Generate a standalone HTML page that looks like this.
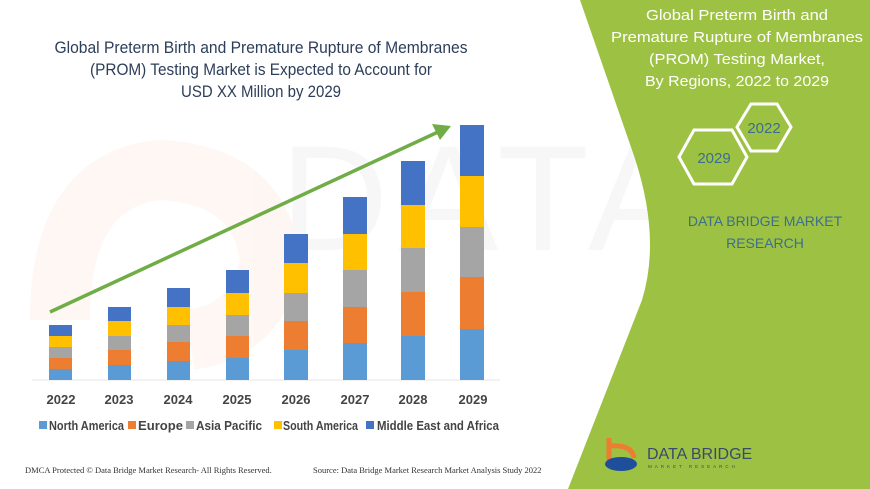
<!DOCTYPE html>
<html><head><meta charset="utf-8"><style>
html,body{margin:0;padding:0;background:#fff}
svg{display:block}
</style></head><body>
<svg width="870" height="489" viewBox="0 0 870 489" xmlns="http://www.w3.org/2000/svg" font-family="'Liberation Sans', sans-serif">
<rect width="870" height="489" fill="#fff"/>
<!-- faint watermark -->
<g opacity="0.06">
<path d="M60 320 Q60 180 160 170 Q260 175 270 260 Q260 330 190 340" fill="none" stroke="#e8743b" stroke-width="60"/>
<text x="280" y="250" font-size="150" fill="#888" letter-spacing="10">DATA BRIDGE</text>
</g>
<!-- green panel -->
<path d="M580 0 L870 0 L870 489 L568 489 L642 300 Q662 235 632 150 Z" fill="#9dc243"/>
<!-- title -->
<g fill="#2d3e5a" font-size="16.5" text-anchor="middle">
<text x="261" y="53" textLength="413" lengthAdjust="spacingAndGlyphs">Global Preterm Birth and Premature Rupture of Membranes</text>
<text x="261" y="75" textLength="342" lengthAdjust="spacingAndGlyphs">(PROM) Testing Market is Expected to Account for</text>
<text x="261" y="97" textLength="160" lengthAdjust="spacingAndGlyphs">USD XX Million by 2029</text>
</g>
<!-- baseline -->
<line x1="32" y1="380" x2="500" y2="380" stroke="#e6e6e6" stroke-width="1"/>
<!-- bars -->
<g>
<rect x="49" y="369" width="23" height="11" fill="#5b9bd5"/><rect x="49" y="358" width="23" height="11" fill="#ed7d31"/><rect x="49" y="347" width="23" height="11" fill="#a5a5a5"/><rect x="49" y="336" width="23" height="11" fill="#ffc000"/><rect x="49" y="325" width="23" height="11" fill="#4472c4"/>
<rect x="108" y="365" width="23" height="15" fill="#5b9bd5"/><rect x="108" y="350" width="23" height="15" fill="#ed7d31"/><rect x="108" y="336" width="23" height="14" fill="#a5a5a5"/><rect x="108" y="321" width="23" height="15" fill="#ffc000"/><rect x="108" y="307" width="23" height="14" fill="#4472c4"/>
<rect x="167" y="361" width="23" height="19" fill="#5b9bd5"/><rect x="167" y="342" width="23" height="19" fill="#ed7d31"/><rect x="167" y="325" width="23" height="17" fill="#a5a5a5"/><rect x="167" y="307" width="23" height="18" fill="#ffc000"/><rect x="167" y="288" width="23" height="19" fill="#4472c4"/>
<rect x="226" y="358" width="23" height="22" fill="#5b9bd5"/><rect x="226" y="336" width="23" height="22" fill="#ed7d31"/><rect x="226" y="315" width="23" height="21" fill="#a5a5a5"/><rect x="226" y="293" width="23" height="22" fill="#ffc000"/><rect x="226" y="270" width="23" height="23" fill="#4472c4"/>
<rect x="284" y="350" width="24" height="30" fill="#5b9bd5"/><rect x="284" y="321" width="24" height="29" fill="#ed7d31"/><rect x="284" y="293" width="24" height="28" fill="#a5a5a5"/><rect x="284" y="263" width="24" height="30" fill="#ffc000"/><rect x="284" y="234" width="24" height="29" fill="#4472c4"/>
<rect x="343" y="343" width="24" height="37" fill="#5b9bd5"/><rect x="343" y="307" width="24" height="36" fill="#ed7d31"/><rect x="343" y="270" width="24" height="37" fill="#a5a5a5"/><rect x="343" y="234" width="24" height="36" fill="#ffc000"/><rect x="343" y="197" width="24" height="37" fill="#4472c4"/>
<rect x="401" y="336" width="24" height="44" fill="#5b9bd5"/><rect x="401" y="292" width="24" height="44" fill="#ed7d31"/><rect x="401" y="248" width="24" height="44" fill="#a5a5a5"/><rect x="401" y="205" width="24" height="43" fill="#ffc000"/><rect x="401" y="161" width="24" height="44" fill="#4472c4"/>
<rect x="460" y="329" width="24" height="51" fill="#5b9bd5"/><rect x="460" y="277" width="24" height="52" fill="#ed7d31"/><rect x="460" y="227" width="24" height="50" fill="#a5a5a5"/><rect x="460" y="176" width="24" height="51" fill="#ffc000"/><rect x="460" y="125" width="24" height="51" fill="#4472c4"/>
</g>
<!-- arrow -->
<line x1="50" y1="312" x2="438" y2="132" stroke="#70ad47" stroke-width="3.5"/>
<polygon points="451,126 432,124 440,140" fill="#70ad47"/>
<!-- x labels -->
<g fill="#444" font-size="13" font-weight="bold" text-anchor="middle">
<text x="61" y="404">2022</text><text x="119" y="404">2023</text><text x="178" y="404">2024</text><text x="237" y="404">2025</text><text x="296" y="404">2026</text><text x="355" y="404">2027</text><text x="413" y="404">2028</text><text x="473" y="404">2029</text>
</g>
<!-- legend -->
<g font-size="12.5" font-weight="bold" fill="#444">
<rect x="39" y="421" width="8" height="8" fill="#5b9bd5"/><text x="49" y="430" textLength="75" lengthAdjust="spacingAndGlyphs">North America</text>
<rect x="128" y="421" width="8" height="8" fill="#ed7d31"/><text x="138" y="430" textLength="45" lengthAdjust="spacingAndGlyphs">Europe</text>
<rect x="186" y="421" width="8" height="8" fill="#a5a5a5"/><text x="196" y="430" textLength="66" lengthAdjust="spacingAndGlyphs">Asia Pacific</text>
<rect x="274" y="421" width="8" height="8" fill="#ffc000"/><text x="283" y="430" textLength="75" lengthAdjust="spacingAndGlyphs">South America</text>
<rect x="366" y="421" width="8" height="8" fill="#4472c4"/><text x="377" y="430" textLength="122" lengthAdjust="spacingAndGlyphs">Middle East and Africa</text>
</g>
<!-- footer -->
<g font-family="'Liberation Serif', serif" font-size="8.5" fill="#333">
<text x="25" y="473">DMCA Protected © Data Bridge Market Research- All Rights Reserved.</text>
<text x="313" y="473">Source: Data Bridge Market Research Market Analysis Study 2022</text>
</g>
<!-- right panel title -->
<g fill="#fff" font-size="15" text-anchor="middle">
<text x="737" y="20" textLength="182" lengthAdjust="spacingAndGlyphs">Global Preterm Birth and</text>
<text x="737" y="42" textLength="252" lengthAdjust="spacingAndGlyphs">Premature Rupture of Membranes</text>
<text x="737" y="64" textLength="176" lengthAdjust="spacingAndGlyphs">(PROM) Testing Market,</text>
<text x="737" y="86" textLength="184" lengthAdjust="spacingAndGlyphs">By Regions, 2022 to 2029</text>
</g>
<!-- hexagons -->
<polygon points="737,127 751,104 777,104 791,127 777,151 751,151" fill="none" stroke="#fff" stroke-width="3"/>
<polygon points="679,157 694,130 732,130 747,157 732,184 694,184" fill="none" stroke="#fff" stroke-width="3"/>
<text x="764" y="133" font-size="15" fill="#3c6e8e" text-anchor="middle">2022</text>
<text x="714" y="163" font-size="15" fill="#3c6e8e" text-anchor="middle">2029</text>
<g fill="#3c6e8e" font-size="14" text-anchor="middle">
<text x="765" y="226">DATA BRIDGE MARKET</text>
<text x="765" y="248">RESEARCH</text>
</g>
<!-- logo -->
<g>
<path d="M609 438 L609 462" stroke="#ed7d31" stroke-width="5"/>
<path d="M609 446 Q632 444 634 458" stroke="#ed7d31" stroke-width="5" fill="none"/>
<ellipse cx="621" cy="464" rx="16" ry="7" fill="#1f4e9a"/>
<text x="647" y="459" font-size="16" fill="#3a4a6a">DATA BRIDGE</text>
<text x="648" y="468" font-size="4.5" fill="#3a4a6a" letter-spacing="3">MARKET RESEARCH</text>
</g>
</svg>
</body></html>
